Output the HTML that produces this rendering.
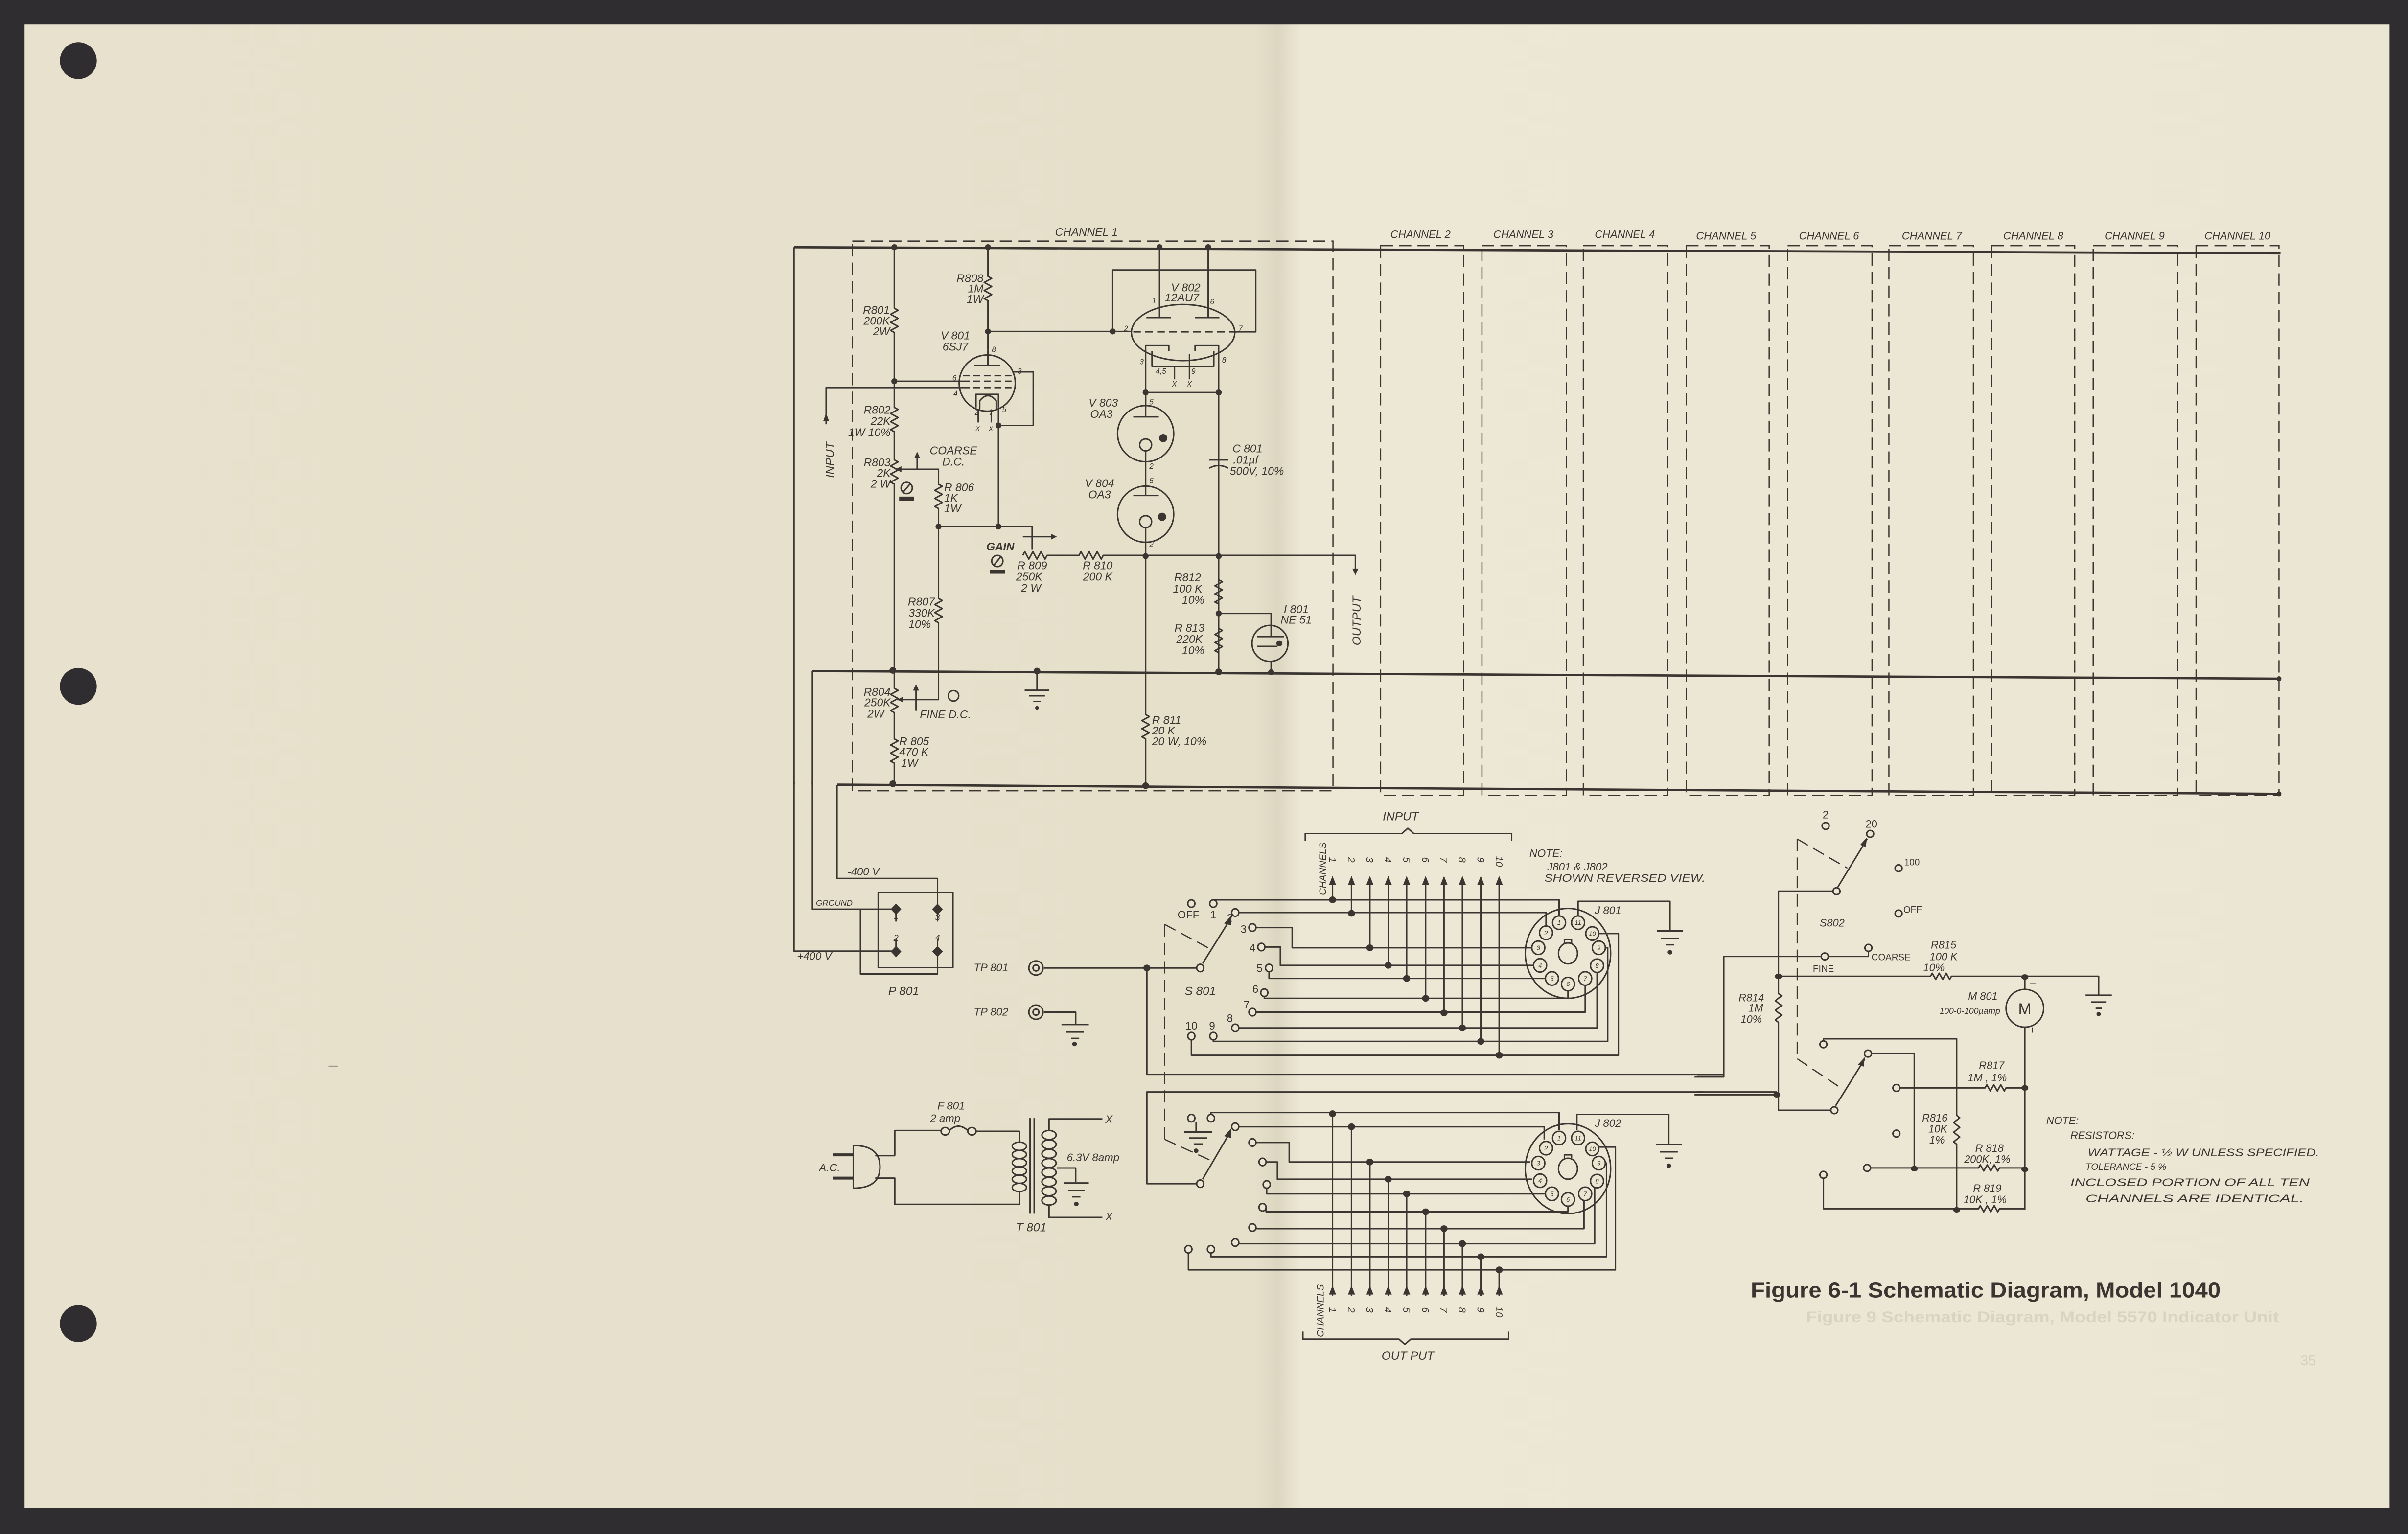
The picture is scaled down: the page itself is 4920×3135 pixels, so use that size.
<!DOCTYPE html>
<html><head><meta charset="utf-8"><style>
html,body{margin:0;padding:0;background:#2f2d2f;}
svg{display:block;}
.ns *{vector-effect:non-scaling-stroke;}
.ln{fill:none;stroke:#3a3531;stroke-width:3px;stroke-linejoin:round;}
.fl{fill:#3a3531;stroke:none;}
.pp{fill:#ebe5d2;stroke:#3a3531;stroke-width:3px;}
text{font-family:"Liberation Sans",sans-serif;font-style:italic;fill:#3a3531;stroke:none;}
.up{font-style:normal;}
</style></head><body>
<svg width="4920" height="3135" viewBox="0 0 1568 999" preserveAspectRatio="none" xmlns="http://www.w3.org/2000/svg">
<defs>
<linearGradient id="pg" x1="0" x2="1" y1="0" y2="0">
<stop offset="0" stop-color="#e7e1cd"/><stop offset="0.52" stop-color="#e6e0cb"/>
<stop offset="0.530" stop-color="#ddd6c1"/><stop offset="0.54" stop-color="#ede8d6"/><stop offset="1" stop-color="#ebe5d3"/>
</linearGradient>
</defs>
<rect x="0" y="0" width="1568" height="999" fill="#2f2d2f"/>
<rect x="16" y="16" width="1540" height="966" fill="url(#pg)"/>
<circle cx="51" cy="39.5" r="12" fill="#2f2d2f"/>
<circle cx="51" cy="447" r="12" fill="#2f2d2f"/>
<circle cx="51" cy="862" r="12" fill="#2f2d2f"/>

<g fill="none" stroke="#3a3531">
<path d="M517,161 L1485,165" stroke-width="1.5"/>
<path d="M529,437 L1485,442" stroke-width="1.5"/>
<path d="M545,511 L1485,517" stroke-width="1.5"/>
<path d="M517,161 V511" stroke-width="1"/>
<path d="M529,437 V511" stroke-width="1"/>
<g stroke-width="0.8" stroke-dasharray="8 4">
<rect x="555" y="157" width="313" height="358"/>
<rect x="899" y="160" width="54" height="358"/>
<rect x="965" y="160" width="55" height="358"/>
<rect x="1031" y="160" width="55" height="358"/>
<rect x="1098" y="160" width="54" height="358"/>
<rect x="1164" y="160" width="55" height="358"/>
<rect x="1230" y="160" width="55" height="358"/>
<rect x="1297" y="160" width="54" height="358"/>
<rect x="1363" y="160" width="55" height="358"/>
<rect x="1430" y="160" width="54" height="358"/>
<path d="M758.4,602 V742 M758.4,602 L789,618.5 M758.4,742 L789,756"/>
<path d="M1170.3,546.4 V689.5 M1170.3,546.4 L1203,565.4 M1170.3,689.5 L1198.7,708.5"/>
</g>
<path d="M1105,699.8 H1122.5 M1105,711.1 H1157" stroke-width="0.9"/>
</g>
<circle cx="1484" cy="442" r="1.6" fill="#3a3531"/>
<circle cx="1484" cy="517" r="1.6" fill="#3a3531"/>
<g font-size="7">
<text x="925" y="155" text-anchor="middle">CHANNEL 2</text>
<text x="992" y="155" text-anchor="middle">CHANNEL 3</text>
<text x="1058" y="155" text-anchor="middle">CHANNEL 4</text>
<text x="1124" y="156" text-anchor="middle">CHANNEL 5</text>
<text x="1191" y="156" text-anchor="middle">CHANNEL 6</text>
<text x="1258" y="156" text-anchor="middle">CHANNEL 7</text>
<text x="1324" y="156" text-anchor="middle">CHANNEL 8</text>
<text x="1390" y="156" text-anchor="middle">CHANNEL 9</text>
<text x="1457" y="156" text-anchor="middle">CHANNEL 10</text>
</g>
<text x="1140" y="845" font-size="14" font-weight="bold" class="up" textLength="306" lengthAdjust="spacingAndGlyphs">Figure 6-1   Schematic Diagram, Model 1040</text>
<text x="1176" y="861" font-size="10" font-weight="bold" class="up" style="fill:#dad3bf" textLength="308" lengthAdjust="spacingAndGlyphs">Figure 9   Schematic Diagram, Model 5570 Indicator Unit</text>
<text x="1498" y="889" font-size="9" class="up" style="fill:#d6cfbb">35</text>

<g class="ns" transform="translate(509.9,143.4) scale(0.2439)">
<g class="ln">
<path d="M297,72 V235 l10,5.4 l-20,10.8 l20,10.8 l-20,10.8 l20,10.8 l-20,10.8 l10,5.4 V500 l10,5.4 l-20,10.8 l20,10.8 l-20,10.8 l20,10.8 l-20,10.8 l10,5.4 V640 l10,5.4 l-20,10.8 l20,10.8 l-20,10.8 l20,10.8 l-20,10.8 l10,5.4 V1250 l10,5.4 l-20,10.8 l20,10.8 l-20,10.8 l20,10.8 l-20,10.8 l10,5.4 V1385 l10,5.4 l-20,10.8 l20,10.8 l-20,10.8 l20,10.8 l-20,10.8 l10,5.4 V1505"/>
<path d="M547,72 V150 l10,5.4 l-20,10.8 l20,10.8 l-20,10.8 l20,10.8 l-20,10.8 l10,5.4 V345"/>
<path d="M547,297 H930"/>
<path d="M880,297 V133 H1262 V298 H1208"/>
<path d="M1005,72 V260 M1135,72 V260 M970,260 H1035 M1100,260 H1165"/>
<ellipse cx="1068" cy="300" rx="138" ry="75"/>
<path d="M935,298h20m12,0h20m12,0h20m12,0h20m12,0h20m12,0h20m12,0h20m12,0h20m12,0h20"/>
<path d="M968,500 V335 H1030 V350 M1163,1205 V335 H1100 V350"/>
<path d="M985,350 V390 H1150 V350 M1045,390 V425 M1085,358 V425"/>
<path d="M968,460 H1163"/>
<circle cx="545" cy="435" r="75"/>
<path d="M510,388 H580 M547,345 V388"/>
<path d="M480,415h18m10,0h18m10,0h18m10,0h18m10,0h18 M480,430h18m10,0h18m10,0h18m10,0h18m10,0h18 M480,447h18m10,0h18m10,0h18m10,0h18m10,0h18"/>
<path d="M297,430 H480 M115,545 V447 H480"/>
<path d="M612,405 H668 V548 H575"/>
<path d="M515,500 V465 H575 V500 M525,505 V482 Q547,455 569,482 V505 M521,505 V540 M556,505 V540"/>
<path d="M575,500 V818"/>
<path d="M415,818 H665 V880"/>
<path d="M640,845 H715"/>
<path d="M300,665 H415 V705 l10,5.4 l-20,10.8 l20,10.8 l-20,10.8 l20,10.8 l-20,10.8 l10,5.4 V1010 l10,5.4 l-20,10.8 l20,10.8 l-20,10.8 l20,10.8 l-20,10.8 l10,5.4 V1280 H305"/>
<path d="M358,665 V625 M355,1310 V1245"/>
<circle cx="330" cy="715" r="15"/><path d="M320,727 L340,703"/>
<circle cx="572" cy="910" r="15"/><path d="M562,922 L582,898"/>
<circle cx="455" cy="1270" r="14"/>
<path d="M640,895 l5.4,-10 l10.8,20 l10.8,-20 l10.8,20 l10.8,-20 l10.8,20 l5.4,-10 H790 l5.4,-10 l10.8,20 l10.8,-20 l10.8,20 l10.8,-20 l10.8,20 l5.4,-10 H1528 V935"/>
<path d="M1163,460 V640 M1138,640 H1188 M1138,662 Q1163,648 1188,662 M1163,655 V960 l10,5.4 l-20,10.8 l20,10.8 l-20,10.8 l20,10.8 l-20,10.8 l10,5.4 V1090 l10,5.4 l-20,10.8 l20,10.8 l-20,10.8 l20,10.8 l-20,10.8 l10,5.4 V1205"/>
<path d="M1163,1050 H1303 V1082"/>
<circle cx="1300" cy="1130" r="48"/>
<path d="M1303,1082 V1112 M1265,1112 H1338 M1265,1138 H1320 M1303,1178 V1205"/>
<circle cx="968" cy="570" r="75"/>
<path d="M968,460 V525 M935,525 H1003"/>
<circle cx="968" cy="600" r="16"/>
<path d="M968,616 V735 M935,735 H1003"/>
<circle cx="968" cy="785" r="75"/>
<circle cx="968" cy="805" r="16"/>
<path d="M968,821 V1320 l10,5.4 l-20,10.8 l20,10.8 l-20,10.8 l20,10.8 l-20,10.8 l10,5.4 V1510"/>
<path d="M678,1205 V1255 M645,1255 H711 M657,1270 H699 M668,1285 H688"/>
</g>
<g class="fl">
<path d="M115,515 l-8,22 h16z"/>
<path d="M715,837 l16,8 l-16,8z"/>
<path d="M300,665 l16,-8 v16z"/>
<path d="M305,1280 l16,-8 v16z"/>
<path d="M358,618 l-8,18 h16z"/>
<path d="M355,1238 l-8,18 h16z"/>
<path d="M1520,930 l8,18 l8,-18z"/>
<rect x="310" y="738" width="40" height="11"/>
<rect x="552" y="933" width="40" height="11"/>
<circle cx="1015" cy="582" r="11"/><circle cx="1012" cy="792" r="11"/>
<circle cx="1325" cy="1130" r="8"/>
<circle cx="678" cy="1302" r="5"/>
<circle cx="297" cy="72" r="8"/><circle cx="547" cy="72" r="8"/><circle cx="1005" cy="72" r="8"/><circle cx="1135" cy="72" r="8"/>
<circle cx="297" cy="430" r="8"/><circle cx="547" cy="297" r="8"/><circle cx="880" cy="297" r="8"/>
<circle cx="575" cy="548" r="8"/><circle cx="415" cy="818" r="8"/><circle cx="575" cy="818" r="8"/>
<circle cx="968" cy="897" r="8"/><circle cx="1163" cy="897" r="8"/><circle cx="968" cy="460" r="8"/><circle cx="1163" cy="460" r="8"/>
<circle cx="1163" cy="1050" r="8"/><circle cx="293" cy="1202" r="9"/><circle cx="678" cy="1204" r="9"/><circle cx="1163" cy="1206" r="9"/><circle cx="1303" cy="1207" r="8"/>
<circle cx="293" cy="1505" r="9"/><circle cx="968" cy="1510" r="9"/>
</g>
<g font-size="30">
<text x="810" y="42" text-anchor="middle">CHANNEL  1</text>
<text x="535" y="165" text-anchor="end">R808</text><text x="535" y="193" text-anchor="end">1M</text><text x="535" y="221" text-anchor="end">1W</text>
<text x="285" y="250" text-anchor="end">R801</text><text x="285" y="279" text-anchor="end">200K</text><text x="285" y="307" text-anchor="end">2W</text>
<text x="460" y="318" text-anchor="middle">V 801</text><text x="460" y="348" text-anchor="middle">6SJ7</text>
<text x="1075" y="190" text-anchor="middle">V 802</text><text x="1065" y="217" text-anchor="middle">12AU7</text>
<text x="287" y="517" text-anchor="end">R802</text><text x="287" y="547" text-anchor="end">22K</text><text x="287" y="577" text-anchor="end">1W 10%</text>
<text x="287" y="657" text-anchor="end">R803</text><text x="287" y="685" text-anchor="end">2K</text><text x="287" y="714" text-anchor="end">2 W</text>
<text x="455" y="625" text-anchor="middle">COARSE</text><text x="455" y="655" text-anchor="middle">D.C.</text>
<text x="430" y="724">R 806</text><text x="430" y="752">1K</text><text x="430" y="780">1W</text>
<text x="580" y="882" text-anchor="middle" font-weight="bold">GAIN</text>
<text x="665" y="932" text-anchor="middle">R 809</text><text x="657" y="962" text-anchor="middle">250K</text><text x="662" y="992" text-anchor="middle">2 W</text>
<text x="840" y="932" text-anchor="middle">R 810</text><text x="840" y="962" text-anchor="middle">200 K</text>
<text x="855" y="498" text-anchor="middle">V 803</text><text x="850" y="528" text-anchor="middle">OA3</text>
<text x="845" y="713" text-anchor="middle">V 804</text><text x="845" y="743" text-anchor="middle">OA3</text>
<text x="1240" y="620" text-anchor="middle">C 801</text><text x="1235" y="650" text-anchor="middle">.01µf</text><text x="1265" y="680" text-anchor="middle">500V, 10%</text>
<text x="1080" y="964" text-anchor="middle">R812</text><text x="1080" y="994" text-anchor="middle">100 K</text><text x="1095" y="1024" text-anchor="middle">10%</text>
<text x="1085" y="1099" text-anchor="middle">R 813</text><text x="1085" y="1129" text-anchor="middle">220K</text><text x="1095" y="1159" text-anchor="middle">10%</text>
<text x="1370" y="1049" text-anchor="middle">I 801</text><text x="1370" y="1077" text-anchor="middle">NE 51</text>
<text x="405" y="1029" text-anchor="end">R807</text><text x="405" y="1059" text-anchor="end">330K</text><text x="395" y="1089" text-anchor="end">10%</text>
<text x="287" y="1270" text-anchor="end">R804</text><text x="287" y="1298" text-anchor="end">250K</text><text x="270" y="1328" text-anchor="end">2W</text>
<text x="365" y="1330">FINE  D.C.</text>
<text x="310" y="1402">R 805</text><text x="310" y="1430">470 K</text><text x="315" y="1460">1W</text>
<text x="985" y="1345">R 811</text><text x="985" y="1373">20 K</text><text x="985" y="1402">20 W, 10%</text>
<text transform="translate(135,640) rotate(-90)" text-anchor="middle" font-size="32">INPUT</text>
<text transform="translate(1542,1070) rotate(-90)" text-anchor="middle" font-size="32">OUTPUT</text>
</g>
<g font-size="20">
<text x="557" y="352">8</text><text x="626" y="410">3</text><text x="452" y="428">6</text><text x="455" y="470">4</text>
<text x="512" y="520">2</text><text x="550" y="520">7</text><text x="585" y="512">5</text><text x="515" y="562">x</text><text x="550" y="562">x</text>
<text x="985" y="222">1</text><text x="1140" y="225">6</text><text x="910" y="296">2</text><text x="1216" y="296">7</text>
<text x="952" y="385">3</text><text x="1172" y="380">8</text><text x="995" y="410">4,5</text><text x="1090" y="410">9</text>
<text x="1038" y="444">X</text><text x="1078" y="444">X</text>
<text x="978" y="492">5</text><text x="978" y="664">2</text><text x="978" y="702">5</text><text x="978" y="872">2</text>
</g>
</g>

<g class="ns" transform="translate(503.5,509.9) scale(0.3862,0.2439)">
<g class="ln">
<rect x="177" y="292" width="126" height="201"/>
<path d="M35,-4 V449 H207 M66,-4 V337 H207 M107.5,5 V255 H277 V337 M147,337 V510 H277 V455"/>
<path d="M207,337 V370 M277,337 V370 M207,415 V465 M277,415 V465"/>
<ellipse cx="443" cy="494" rx="12" ry="19"/><ellipse cx="443" cy="494" rx="5" ry="8"/>
<path d="M457,494 H714"/>
<path d="M724,482 L772,360"/>
<path d="M630,494 V778 H1568 M1568,825 H630 V1070 H714"/>
<path d="M724,1058 L772,928"/>
<ellipse cx="443" cy="612" rx="12" ry="19"/><ellipse cx="443" cy="612" rx="5" ry="8"/>
<path d="M457,612 H510 V645 M486,645 H532 M494,665 H524 M502,682 H516"/>
<path d="M742,312 H1325 V355"/>
<path d="M785,346 H1303 V382"/>
<path d="M814,386 H875 V440 H1278"/>
<path d="M829,438 H855 V487 H1281"/>
<path d="M836,504 V522 H1301"/>
<path d="M828,570 V575 H1340 V555"/>
<path d="M814,612 H1369 V540"/>
<path d="M785,654 H1389 V506"/>
<path d="M742,686 V690 H1407 V440 H1404"/>
<path d="M705,686 V727 H1425 V402 H1393"/>
<path d="M1357,355 V316 H1512 V395 M1490,395 H1534 M1497,415 H1527 M1505,432 H1519"/>
<path d="M943,262 V312 M975,262 V348 M1006,262 V440 M1037,262 V487 M1068,262 V522 M1100,262 V575 M1131,262 V614 M1162,262 V654 M1193,262 V690 M1224,262 V727"/>
<path d="M943,883 V1370 M975,918 V1370 M1006,1012 V1370 M1037,1058 V1370 M1068,1097 V1370 M1100,1145 V1370 M1131,1190 V1370 M1162,1230 V1370 M1193,1265 V1370 M1224,1300 V1370"/>
<path d="M713,905 V930 M693,932 H740 M701,948 H732 M709,964 H724"/>
<path d="M738,885 V880 H1325 V927"/>
<path d="M785,918 H1300 V952"/>
<path d="M814,960 H870 V1012 H1276"/>
<path d="M831,1012 H850 V1058 H1280"/>
<path d="M832,1082 V1097 H1301"/>
<path d="M831,1133 V1145 H1340 V1128"/>
<path d="M814,1187 V1190 H1367 V1113"/>
<path d="M785,1227 V1230 H1385 V1078"/>
<path d="M738,1255 V1265 H1405 V1015 H1403"/>
<path d="M700,1255 V1300 H1420 V972 H1390"/>
<path d="M1355,927 V885 H1510 V965 M1488,965 H1532 M1495,985 H1525 M1503,1002 H1517"/>
<ellipse cx="1340" cy="455" rx="72" ry="120"/>
<ellipse cx="1340" cy="455" rx="16" ry="28"/>
<ellipse cx="1340" cy="1030" rx="72" ry="120"/>
<ellipse cx="1340" cy="1030" rx="16" ry="28"/>
<path d="M1334,427 V418 H1346 V427 M1334,1002 V993 H1346 V1002"/>
<path d="M205,995 V928 H283 M297,928 Q312,905 328,928 M342,930 H415 V960"/>
<path d="M415,1090 V1125 H205 V1055 H172 M172,995 H205"/>
<path d="M135,968 Q180,968 180,1025 Q180,1082 135,1082 Z"/>
<path d="M433,895 V1150 M440,895 V1150"/>
<path d="M465,928 V897 H555 M465,1127 V1160 H555 M478,1028 H510 V1065 M490,1068 H532 M497,1088 H525 M504,1105 H518"/>
</g>
<path d="M100,993 H135 M100,1055 H135" fill="none" stroke="#3a3531" stroke-width="6px"/>
<g class="pp">
<ellipse cx="290" cy="930" rx="7" ry="10"/><ellipse cx="335" cy="930" rx="7" ry="10"/>
<ellipse cx="415" cy="970" rx="12" ry="11"/><ellipse cx="415" cy="992" rx="12" ry="11"/><ellipse cx="415" cy="1014" rx="12" ry="11"/><ellipse cx="415" cy="1036" rx="12" ry="11"/><ellipse cx="415" cy="1058" rx="12" ry="11"/><ellipse cx="415" cy="1080" rx="12" ry="11"/>
<ellipse cx="465" cy="940" rx="12" ry="12"/><ellipse cx="465" cy="965" rx="12" ry="12"/><ellipse cx="465" cy="990" rx="12" ry="12"/><ellipse cx="465" cy="1015" rx="12" ry="12"/><ellipse cx="465" cy="1040" rx="12" ry="12"/><ellipse cx="465" cy="1065" rx="12" ry="12"/><ellipse cx="465" cy="1090" rx="12" ry="12"/><ellipse cx="465" cy="1115" rx="12" ry="12"/>
<ellipse cx="720" cy="494" rx="6" ry="10"/><ellipse cx="720" cy="1070" rx="6" ry="10"/>
<ellipse cx="705" cy="322" rx="6" ry="10"/><ellipse cx="742" cy="322" rx="6" ry="10"/><ellipse cx="779" cy="346" rx="6" ry="10"/><ellipse cx="808" cy="386" rx="6" ry="10"/><ellipse cx="823" cy="438" rx="6" ry="10"/><ellipse cx="836" cy="494" rx="6" ry="10"/><ellipse cx="828" cy="560" rx="6" ry="10"/><ellipse cx="808" cy="612" rx="6" ry="10"/><ellipse cx="779" cy="654" rx="6" ry="10"/><ellipse cx="742" cy="676" rx="6" ry="10"/><ellipse cx="705" cy="676" rx="6" ry="10"/>
<ellipse cx="705" cy="895" rx="6" ry="10"/><ellipse cx="738" cy="895" rx="6" ry="10"/><ellipse cx="779" cy="918" rx="6" ry="10"/><ellipse cx="808" cy="960" rx="6" ry="10"/><ellipse cx="825" cy="1012" rx="6" ry="10"/><ellipse cx="832" cy="1072" rx="6" ry="10"/><ellipse cx="825" cy="1133" rx="6" ry="10"/><ellipse cx="808" cy="1187" rx="6" ry="10"/><ellipse cx="779" cy="1227" rx="6" ry="10"/><ellipse cx="738" cy="1245" rx="6" ry="10"/><ellipse cx="700" cy="1245" rx="6" ry="10"/>
<g>
<ellipse cx="1325" cy="373" rx="11" ry="18"/><ellipse cx="1357" cy="373" rx="11" ry="18"/><ellipse cx="1381" cy="402" rx="11" ry="18"/><ellipse cx="1392" cy="440" rx="11" ry="18"/><ellipse cx="1389" cy="488" rx="11" ry="18"/><ellipse cx="1369" cy="522" rx="11" ry="18"/><ellipse cx="1340" cy="537" rx="11" ry="18"/><ellipse cx="1313" cy="522" rx="11" ry="18"/><ellipse cx="1293" cy="487" rx="11" ry="18"/><ellipse cx="1290" cy="440" rx="11" ry="18"/><ellipse cx="1303" cy="400" rx="11" ry="18"/>
</g>
<g transform="translate(0,575)">
<ellipse cx="1325" cy="373" rx="11" ry="18"/><ellipse cx="1357" cy="373" rx="11" ry="18"/><ellipse cx="1381" cy="402" rx="11" ry="18"/><ellipse cx="1392" cy="440" rx="11" ry="18"/><ellipse cx="1389" cy="488" rx="11" ry="18"/><ellipse cx="1369" cy="522" rx="11" ry="18"/><ellipse cx="1340" cy="537" rx="11" ry="18"/><ellipse cx="1313" cy="522" rx="11" ry="18"/><ellipse cx="1293" cy="487" rx="11" ry="18"/><ellipse cx="1290" cy="440" rx="11" ry="18"/><ellipse cx="1303" cy="400" rx="11" ry="18"/>
</g>
</g>
<g class="fl">
<path d="M207,322 l9,15 l-9,15 l-9,-15z M277,322 l9,15 l-9,15 l-9,-15z M207,435 l9,15 l-9,15 l-9,-15z M277,435 l9,15 l-9,15 l-9,-15z"/>
<path d="M772,355 l-12,20 l12,5z M772,923 l-12,20 l12,5z"/>
<ellipse cx="630" cy="494" rx="6" ry="9"/>
<ellipse cx="508" cy="697" rx="4" ry="6"/><ellipse cx="1512" cy="452" rx="4" ry="6"/><ellipse cx="1510" cy="1022" rx="4" ry="6"/><ellipse cx="713" cy="982" rx="4" ry="6"/><ellipse cx="511" cy="1124" rx="4" ry="6"/>
<path d="M943,248 l-6,24 h12z M975,248 l-6,24 h12z M1006,248 l-6,24 h12z M1037,248 l-6,24 h12z M1068,248 l-6,24 h12z M1100,248 l-6,24 h12z M1131,248 l-6,24 h12z M1162,248 l-6,24 h12z M1193,248 l-6,24 h12z M1224,248 l-6,24 h12z"/>
<path d="M943,1342 l-6,24 h12z M975,1342 l-6,24 h12z M1006,1342 l-6,24 h12z M1037,1342 l-6,24 h12z M1068,1342 l-6,24 h12z M1100,1342 l-6,24 h12z M1131,1342 l-6,24 h12z M1162,1342 l-6,24 h12z M1193,1342 l-6,24 h12z M1224,1342 l-6,24 h12z"/>
<ellipse cx="943" cy="312" rx="6" ry="9"/><ellipse cx="975" cy="348" rx="6" ry="9"/><ellipse cx="1006" cy="440" rx="6" ry="9"/><ellipse cx="1037" cy="487" rx="6" ry="9"/><ellipse cx="1068" cy="522" rx="6" ry="9"/><ellipse cx="1100" cy="575" rx="6" ry="9"/><ellipse cx="1131" cy="614" rx="6" ry="9"/><ellipse cx="1162" cy="654" rx="6" ry="9"/><ellipse cx="1193" cy="690" rx="6" ry="9"/><ellipse cx="1224" cy="727" rx="6" ry="9"/>
<ellipse cx="943" cy="883" rx="6" ry="9"/><ellipse cx="975" cy="918" rx="6" ry="9"/><ellipse cx="1006" cy="1012" rx="6" ry="9"/><ellipse cx="1037" cy="1058" rx="6" ry="9"/><ellipse cx="1068" cy="1097" rx="6" ry="9"/><ellipse cx="1100" cy="1145" rx="6" ry="9"/><ellipse cx="1131" cy="1190" rx="6" ry="9"/><ellipse cx="1162" cy="1230" rx="6" ry="9"/><ellipse cx="1193" cy="1265" rx="6" ry="9"/><ellipse cx="1224" cy="1300" rx="6" ry="9"/>
</g>
<g font-size="29">
<text transform="translate(125,247) scale(.632,1)">-400 V</text>
<text transform="translate(72,328) scale(.632,1)" font-size="22">GROUND</text>
<text transform="translate(40,472) scale(.632,1)">+400 V</text>
<text transform="translate(207,364) scale(.632,1)" text-anchor="middle" font-size="24">1</text>
<text transform="translate(277,367) scale(.632,1)" text-anchor="middle" font-size="24">3</text>
<text transform="translate(207,422) scale(.632,1)" text-anchor="middle" font-size="24">2</text>
<text transform="translate(277,422) scale(.632,1)" text-anchor="middle" font-size="24">4</text>
<text transform="translate(220,566) scale(.632,1)" text-anchor="middle" font-size="32">P 801</text>
<text transform="translate(338,503) scale(.632,1)">TP 801</text>
<text transform="translate(338,621) scale(.632,1)">TP 802</text>
<text transform="translate(700,362) scale(.632,1)" text-anchor="middle" class="up">OFF</text>
<text transform="translate(742,362) scale(.632,1)" text-anchor="middle" class="up">1</text>
<text transform="translate(770,370) scale(.632,1)" text-anchor="middle" class="up">2</text>
<text transform="translate(793,400) scale(.632,1)" text-anchor="middle" class="up">3</text>
<text transform="translate(808,450) scale(.632,1)" text-anchor="middle" class="up">4</text>
<text transform="translate(820,505) scale(.632,1)" text-anchor="middle" class="up">5</text>
<text transform="translate(813,560) scale(.632,1)" text-anchor="middle" class="up">6</text>
<text transform="translate(798,602) scale(.632,1)" text-anchor="middle" class="up">7</text>
<text transform="translate(770,638) scale(.632,1)" text-anchor="middle" class="up">8</text>
<text transform="translate(740,658) scale(.632,1)" text-anchor="middle" class="up">9</text>
<text transform="translate(705,658) scale(.632,1)" text-anchor="middle" class="up">10</text>
<text transform="translate(720,566) scale(.632,1)" text-anchor="middle" font-size="32">S 801</text>
<text transform="translate(1058,100) scale(.632,1)" text-anchor="middle" font-size="32">INPUT</text>
<path d="M897,155 V135 H1060 l10,-14 l10,14 H1245 V155" fill="none" stroke="#3a3531" stroke-width="3px"/>
<path d="M893,1465 V1485 H1055 l10,14 l10,-14 H1240 V1465" fill="none" stroke="#3a3531" stroke-width="3px"/>
<text transform="translate(1070,1540) scale(.632,1)" text-anchor="middle" font-size="32">OUT PUT</text>
<text transform="translate(1275,198) scale(.632,1)">NOTE:</text>
<text transform="translate(1305,234) scale(.632,1)">J801 &amp; J802</text>
<text transform="translate(1300,264) scale(.632,1)" textLength="430" lengthAdjust="spacingAndGlyphs">SHOWN REVERSED VIEW.</text>
<text transform="translate(1385,350) scale(.632,1)">J 801</text>
<text transform="translate(1385,918) scale(.632,1)">J 802</text>
<text transform="translate(932,300) scale(.632,1) rotate(-90)" font-size="26">CHANNELS</text>
<text transform="translate(928,1480) scale(.632,1) rotate(-90)" font-size="26">CHANNELS</text>
<g font-size="26">
<text transform="translate(937,198) scale(.632,1) rotate(90)">1</text><text transform="translate(969,198) scale(.632,1) rotate(90)">2</text><text transform="translate(1000,198) scale(.632,1) rotate(90)">3</text><text transform="translate(1031,198) scale(.632,1) rotate(90)">4</text><text transform="translate(1062,198) scale(.632,1) rotate(90)">5</text><text transform="translate(1094,198) scale(.632,1) rotate(90)">6</text><text transform="translate(1125,198) scale(.632,1) rotate(90)">7</text><text transform="translate(1156,198) scale(.632,1) rotate(90)">8</text><text transform="translate(1187,198) scale(.632,1) rotate(90)">9</text><text transform="translate(1218,195) scale(.632,1) rotate(90)">10</text>
<text transform="translate(937,1400) scale(.632,1) rotate(90)">1</text><text transform="translate(969,1400) scale(.632,1) rotate(90)">2</text><text transform="translate(1000,1400) scale(.632,1) rotate(90)">3</text><text transform="translate(1031,1400) scale(.632,1) rotate(90)">4</text><text transform="translate(1062,1400) scale(.632,1) rotate(90)">5</text><text transform="translate(1094,1400) scale(.632,1) rotate(90)">6</text><text transform="translate(1125,1400) scale(.632,1) rotate(90)">7</text><text transform="translate(1156,1400) scale(.632,1) rotate(90)">8</text><text transform="translate(1187,1400) scale(.632,1) rotate(90)">9</text><text transform="translate(1218,1398) scale(.632,1) rotate(90)">10</text>
</g>
<g font-size="17" text-anchor="middle" class="up">
<text transform="translate(1325,379) scale(.632,1)">1</text><text transform="translate(1357,379) scale(.632,1)">11</text><text transform="translate(1381,408) scale(.632,1)">10</text><text transform="translate(1392,446) scale(.632,1)">9</text><text transform="translate(1389,494) scale(.632,1)">8</text><text transform="translate(1369,528) scale(.632,1)">7</text><text transform="translate(1340,543) scale(.632,1)">6</text><text transform="translate(1313,528) scale(.632,1)">5</text><text transform="translate(1293,493) scale(.632,1)">4</text><text transform="translate(1290,446) scale(.632,1)">3</text><text transform="translate(1303,406) scale(.632,1)">2</text>
<text transform="translate(1325,954) scale(.632,1)">1</text><text transform="translate(1357,954) scale(.632,1)">11</text><text transform="translate(1381,983) scale(.632,1)">10</text><text transform="translate(1392,1021) scale(.632,1)">9</text><text transform="translate(1389,1069) scale(.632,1)">8</text><text transform="translate(1369,1103) scale(.632,1)">7</text><text transform="translate(1340,1118) scale(.632,1)">6</text><text transform="translate(1313,1103) scale(.632,1)">5</text><text transform="translate(1293,1068) scale(.632,1)">4</text><text transform="translate(1290,1021) scale(.632,1)">3</text><text transform="translate(1303,981) scale(.632,1)">2</text>
</g>
<text transform="translate(300,872) scale(.632,1)" text-anchor="middle">F 801</text>
<text transform="translate(290,905) scale(.632,1)" text-anchor="middle">2 amp</text>
<text transform="translate(95,1037) scale(.632,1)" text-anchor="middle">A.C.</text>
<text transform="translate(495,1010) scale(.632,1)">6.3V  8amp</text>
<text transform="translate(435,1197) scale(.632,1)" text-anchor="middle" font-size="32">T 801</text>
<text transform="translate(566,908) scale(.632,1)" text-anchor="middle">X</text>
<text transform="translate(566,1168) scale(.632,1)" text-anchor="middle">X</text>
</g>
</g>

<g class="ns" transform="translate(1083.5,516.2) scale(0.2845,0.2236)">
<g class="ln">
<path d="M386,287 H262 V585 l7,7 l-14,14 l14,14 l-14,14 l14,14 l-14,14 l7,7 V925 H382"/>
<path d="M262,535 H610 l4,-9 l8,18 l8,-18 l8,18 l8,-18 l8,18 l4,-9 H995 V590"/>
<path d="M376,477 H468 V462 M360,477 H137 V828 H70 M258,880 H70"/>
<path d="M398,275 L465,135 M393,912 L460,775"/>
<ellipse cx="826" cy="628" rx="43" ry="55"/>
<path d="M826,535 V573 M826,683 V1215"/>
<path d="M365,723 V717 H670 V940 l7,7 l-14,14 l14,14 l-14,14 l14,14 l-14,14 l7,7 V1215"/>
<path d="M475,760 H573 V1095"/>
<path d="M540,860 H735 l4,-9 l8,18 l8,-18 l8,18 l8,-18 l8,18 l4,-9 H826"/>
<path d="M473,1093 H720 l4,-9 l8,18 l8,-18 l8,18 l8,-18 l8,18 l4,-9 H826"/>
<path d="M365,1123 V1212 H720 l4,-9 l8,18 l8,-18 l8,18 l8,-18 l8,18 l4,-9 H826"/>
<path d="M965,590 H1025 M978,610 H1012 M988,628 H1002"/>
</g>
<g class="pp">
<ellipse cx="370" cy="97" rx="8" ry="10"/><ellipse cx="472" cy="120" rx="8" ry="10"/><ellipse cx="537" cy="220" rx="8" ry="10"/><ellipse cx="395" cy="287" rx="8" ry="10"/><ellipse cx="537" cy="352" rx="8" ry="10"/><ellipse cx="368" cy="477" rx="8" ry="10"/><ellipse cx="468" cy="452" rx="8" ry="10"/><ellipse cx="365" cy="733" rx="8" ry="10"/><ellipse cx="467" cy="760" rx="8" ry="10"/><ellipse cx="532" cy="860" rx="8" ry="10"/><ellipse cx="532" cy="993" rx="8" ry="10"/><ellipse cx="465" cy="1093" rx="8" ry="10"/><ellipse cx="365" cy="1113" rx="8" ry="10"/><ellipse cx="390" cy="925" rx="8" ry="10"/>
</g>
<g class="fl">
<path d="M465,130 l-16,22 l13,6z M460,770 l-16,22 l13,6z"/>
<ellipse cx="262" cy="535" rx="8" ry="8"/><ellipse cx="826" cy="537" rx="8" ry="8"/><ellipse cx="258" cy="880" rx="8" ry="8"/>
<ellipse cx="826" cy="860" rx="8" ry="8"/><ellipse cx="826" cy="1097" rx="8" ry="8"/><ellipse cx="573" cy="1095" rx="8" ry="8"/><ellipse cx="670" cy="1215" rx="8" ry="8"/>
<ellipse cx="995" cy="645" rx="5" ry="6"/>
</g>
<g font-size="31">
<text transform="translate(370,75) scale(.786,1)" text-anchor="middle" class="up">2</text>
<text transform="translate(475,102) scale(.786,1)" text-anchor="middle" class="up">20</text>
<text transform="translate(550,212) scale(.786,1)" class="up" font-size="27">100</text>
<text transform="translate(548,350) scale(.786,1)" class="up" font-size="27">OFF</text>
<text transform="translate(385,390) scale(.786,1)" text-anchor="middle">S802</text>
<text transform="translate(365,522) scale(.786,1)" text-anchor="middle" class="up" font-size="27">FINE</text>
<text transform="translate(475,488) scale(.786,1)" class="up" font-size="27">COARSE</text>
<text transform="translate(640,454) scale(.786,1)" text-anchor="middle">R815</text>
<text transform="translate(640,488) scale(.786,1)" text-anchor="middle">100 K</text>
<text transform="translate(618,520) scale(.786,1)" text-anchor="middle">10%</text>
<text transform="translate(200,608) scale(.786,1)" text-anchor="middle">R814</text>
<text transform="translate(210,638) scale(.786,1)" text-anchor="middle">1M</text>
<text transform="translate(200,671) scale(.786,1)" text-anchor="middle">10%</text>
<text transform="translate(730,604) scale(.786,1)" text-anchor="middle">M 801</text>
<text transform="translate(700,644) scale(.786,1)" text-anchor="middle" font-size="25">100-0-100µamp</text>
<text transform="translate(826,646) scale(.786,1)" text-anchor="middle" class="up" font-size="46">M</text>
<text transform="translate(845,562) scale(.786,1)" text-anchor="middle" class="up">–</text>
<text transform="translate(843,702) scale(.786,1)" text-anchor="middle" class="up">+</text>
<text transform="translate(750,805) scale(.786,1)" text-anchor="middle">R817</text>
<text transform="translate(740,841) scale(.786,1)" text-anchor="middle">1M , 1%</text>
<text transform="translate(620,958) scale(.786,1)" text-anchor="middle">R816</text>
<text transform="translate(627,990) scale(.786,1)" text-anchor="middle">10K</text>
<text transform="translate(625,1022) scale(.786,1)" text-anchor="middle">1%</text>
<text transform="translate(745,1046) scale(.786,1)" text-anchor="middle">R 818</text>
<text transform="translate(740,1078) scale(.786,1)" text-anchor="middle">200K, 1%</text>
<text transform="translate(740,1163) scale(.786,1)" text-anchor="middle">R 819</text>
<text transform="translate(735,1196) scale(.786,1)" text-anchor="middle">10K , 1%</text>
<text transform="translate(875,966) scale(.786,1)">NOTE:</text>
<text transform="translate(930,1009) scale(.786,1)">RESISTORS:</text>
<text transform="translate(970,1059) scale(.786,1)" textLength="674" lengthAdjust="spacingAndGlyphs">WATTAGE - ½ W  UNLESS  SPECIFIED.</text>
<text transform="translate(965,1099) scale(.786,1)" font-size="27">TOLERANCE - 5 %</text>
<text transform="translate(930,1146) scale(.786,1)" textLength="697" lengthAdjust="spacingAndGlyphs">INCLOSED  PORTION  OF  ALL  TEN</text>
<text transform="translate(965,1193) scale(.786,1)" textLength="636" lengthAdjust="spacingAndGlyphs">CHANNELS  ARE  IDENTICAL.</text>
</g>
</g>
<rect x="214" y="694" width="6" height="0.6" fill="#8a8476"/>
</svg>
</body></html>
